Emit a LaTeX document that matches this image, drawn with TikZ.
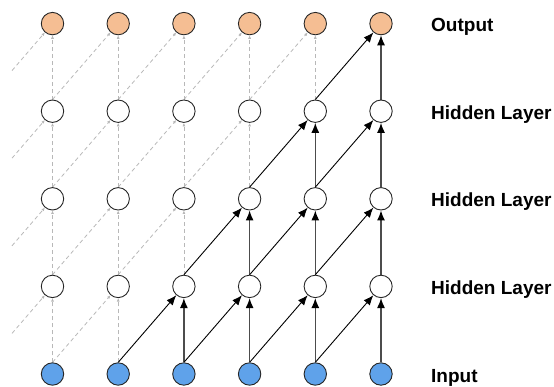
\documentclass[tikz,border=0pt]{standalone}
\usepackage{fontspec}
\newfontfamily\labelfont{Liberation Sans}
\usetikzlibrary{arrows.meta}
\definecolor{outfill}{HTML}{F5BE93}
\definecolor{infill}{HTML}{5FA2EA}
\definecolor{ghostgrey}{HTML}{B8B8B8}
\pgfdeclarelayer{links}
\pgfsetlayers{links,main}
\begin{document}
\begin{tikzpicture}[x=1pt,y=-1pt,
  unit/.style={circle,draw=black!85,line width=0.9pt,minimum size=22.4pt,inner sep=0pt,fill=white},
  outunit/.style={unit,fill=outfill},
  inunit/.style={unit,fill=infill},
  ghost/.style={draw=ghostgrey,dash pattern=on 4pt off 3pt,line width=0.8pt,
    -{Latex[length=3.5pt,width=3pt]}},
  vlink/.style={draw=black!70,line width=1.3pt,-{Latex[length=10pt,width=8pt,color=black]}},
  dlink/.style={draw=black,line width=0.9pt,-{Latex[length=10pt,width=8pt]}},
  layerlabel/.style={anchor=base west,inner sep=0pt,
    font=\labelfont\bfseries\fontsize{19}{23}\selectfont}
]
\useasboundingbox (0,0) rectangle (554,386);

% units: level 0 = input, 1..3 = hidden, 4 = output
\foreach \c in {0,...,5} {
  \pgfmathsetmacro\xc{52.5+65.7*\c}
  \node[inunit]  (n-0-\c) at (\xc,374) {};
  \node[unit]    (n-1-\c) at (\xc,286.4) {};
  \node[unit]    (n-2-\c) at (\xc,198.8) {};
  \node[unit]    (n-3-\c) at (\xc,111.2) {};
  \node[outunit] (n-4-\c) at (\xc,23.6) {};
}

% loose ends of the diagonals entering the first column
\foreach \L in {0,...,3} {
  \coordinate (s-\L) at (12,{374-87.6*\L-40.6});
}

% connections
\begin{pgfonlayer}{links}
\foreach \L in {0,...,3} {
  \pgfmathtruncatemacro\U{\L+1}
  \foreach \c in {0,...,5} {
    \pgfmathtruncatemacro\p{\c-1}
    \ifnum\c<\numexpr\L+2\relax
      \draw[ghost] (n-\L-\c) -- (n-\U-\c);
      \ifnum\c=0
        \draw[ghost] (s-\L) -- (n-\U-0);
      \else
        \draw[ghost] (n-\L-\p.north) -- (n-\U-\c);
      \fi
    \else
      \draw[vlink] (n-\L-\c) -- (n-\U-\c);
      \draw[dlink] (n-\L-\p.north) -- (n-\U-\c);
    \fi
  }
}
\end{pgfonlayer}

% layer labels
\node[layerlabel] (lbl-out) at (431,31.6) {Output};
\node[layerlabel] (lbl-h1)  at (431,119.2) {Hidden Layer};
\node[layerlabel] (lbl-h2)  at (431,206.8) {Hidden Layer};
\node[layerlabel] (lbl-h3)  at (431,294.4) {Hidden Layer};
\node[layerlabel] (lbl-in)  at (431,382) {Input};
\end{tikzpicture}
\end{document}
